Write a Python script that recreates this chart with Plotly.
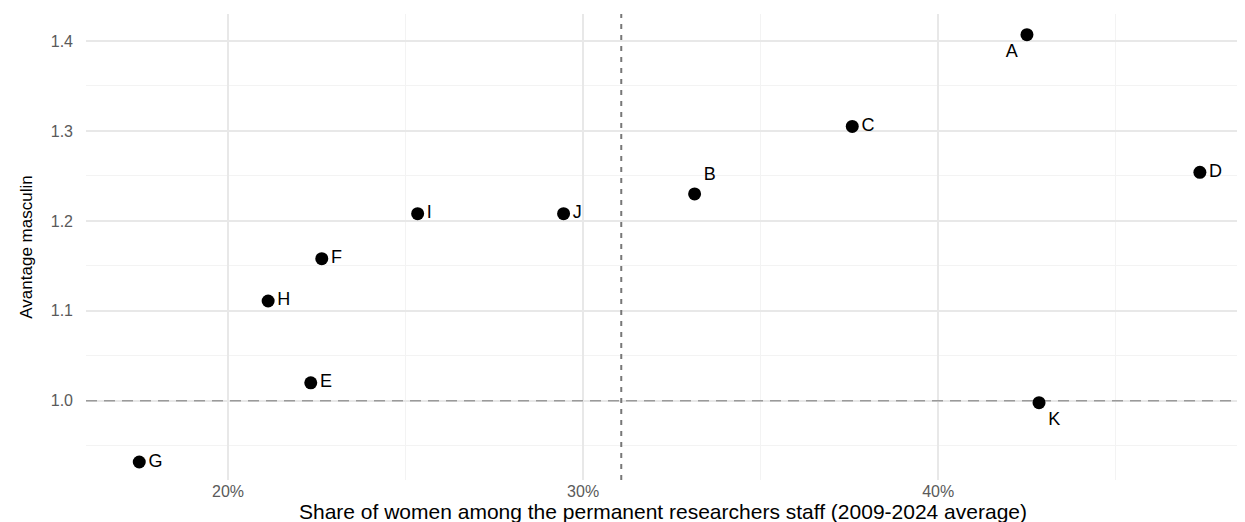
import plotly.graph_objects as go

labels = ["A", "B", "C", "D", "E", "F", "G", "H", "I", "J", "K"]
share_women = [42.50, 33.14, 37.58, 47.37, 22.33, 22.64, 17.50, 21.13, 25.34, 29.45, 42.84]
avantage = [1.407, 1.230, 1.305, 1.254, 1.020, 1.158, 0.932, 1.111, 1.208, 1.208, 0.998]
label_pos = ["bottom left", "top right", "middle right", "middle right", "middle right",
             "middle right", "middle right", "middle right", "middle right", "middle right",
             "bottom right"]

x_ticks = [20, 30, 40]
x_tick_text = ["20%", "30%", "40%"]
y_ticks = [1.0, 1.1, 1.2, 1.3, 1.4]
x_range = [16.0, 48.5]
y_range = [0.912, 1.43]
parity = 1.0

mean_x = sum(share_women) / len(share_women)

fig = go.Figure()
fig.add_trace(go.Scatter(
    x=x_range, y=[parity, parity], mode="lines",
    line=dict(color="#9a9a9a", width=1.5, dash="11px,7px"),
    hoverinfo="skip", showlegend=False,
))
fig.add_trace(go.Scatter(
    x=[mean_x, mean_x], y=y_range, mode="lines",
    line=dict(color="#777777", width=2, dash="5px,6px"),
    hoverinfo="skip", showlegend=False,
))
fig.add_trace(go.Scatter(
    x=share_women, y=avantage, mode="markers+text",
    text=labels, textposition=label_pos,
    textfont=dict(family="Liberation Sans, Arial", size=18, color="black"),
    marker=dict(size=13, color="black"),
    cliponaxis=False, showlegend=False,
))

fig.update_layout(
    width=1245, height=522,
    margin=dict(l=78, r=13, t=6, b=50),
    plot_bgcolor="white", paper_bgcolor="white",
    font=dict(family="Liberation Sans, Arial", color="#4d4d4d"),
    xaxis=dict(
        range=x_range, tickvals=x_ticks, ticktext=x_tick_text,
        showgrid=True, gridcolor="#e8e8e8", gridwidth=1.5,
        minor=dict(dtick=5, showgrid=True, gridcolor="#f3f3f3", gridwidth=1),
        zeroline=False, showline=False, ticks="",
        tickfont=dict(size=16, color="#5a5a5a"),
        title=dict(text="Share of women among the permanent researchers staff (2009-2024 average)",
                   font=dict(size=21, color="black"), standoff=2),
    ),
    yaxis=dict(
        range=y_range, tickvals=y_ticks, tickformat=".1f",
        showgrid=True, gridcolor="#e8e8e8", gridwidth=1.5,
        minor=dict(dtick=0.05, tick0=1.0, showgrid=True, gridcolor="#f3f3f3", gridwidth=1),
        zeroline=False, showline=False, ticks="", ticklabelstandoff=12,
        tickfont=dict(size=16, color="#5a5a5a"),
        title=dict(text="Avantage masculin", font=dict(size=17, color="black"), standoff=13),
    ),
)

fig.write_html("out.html")
